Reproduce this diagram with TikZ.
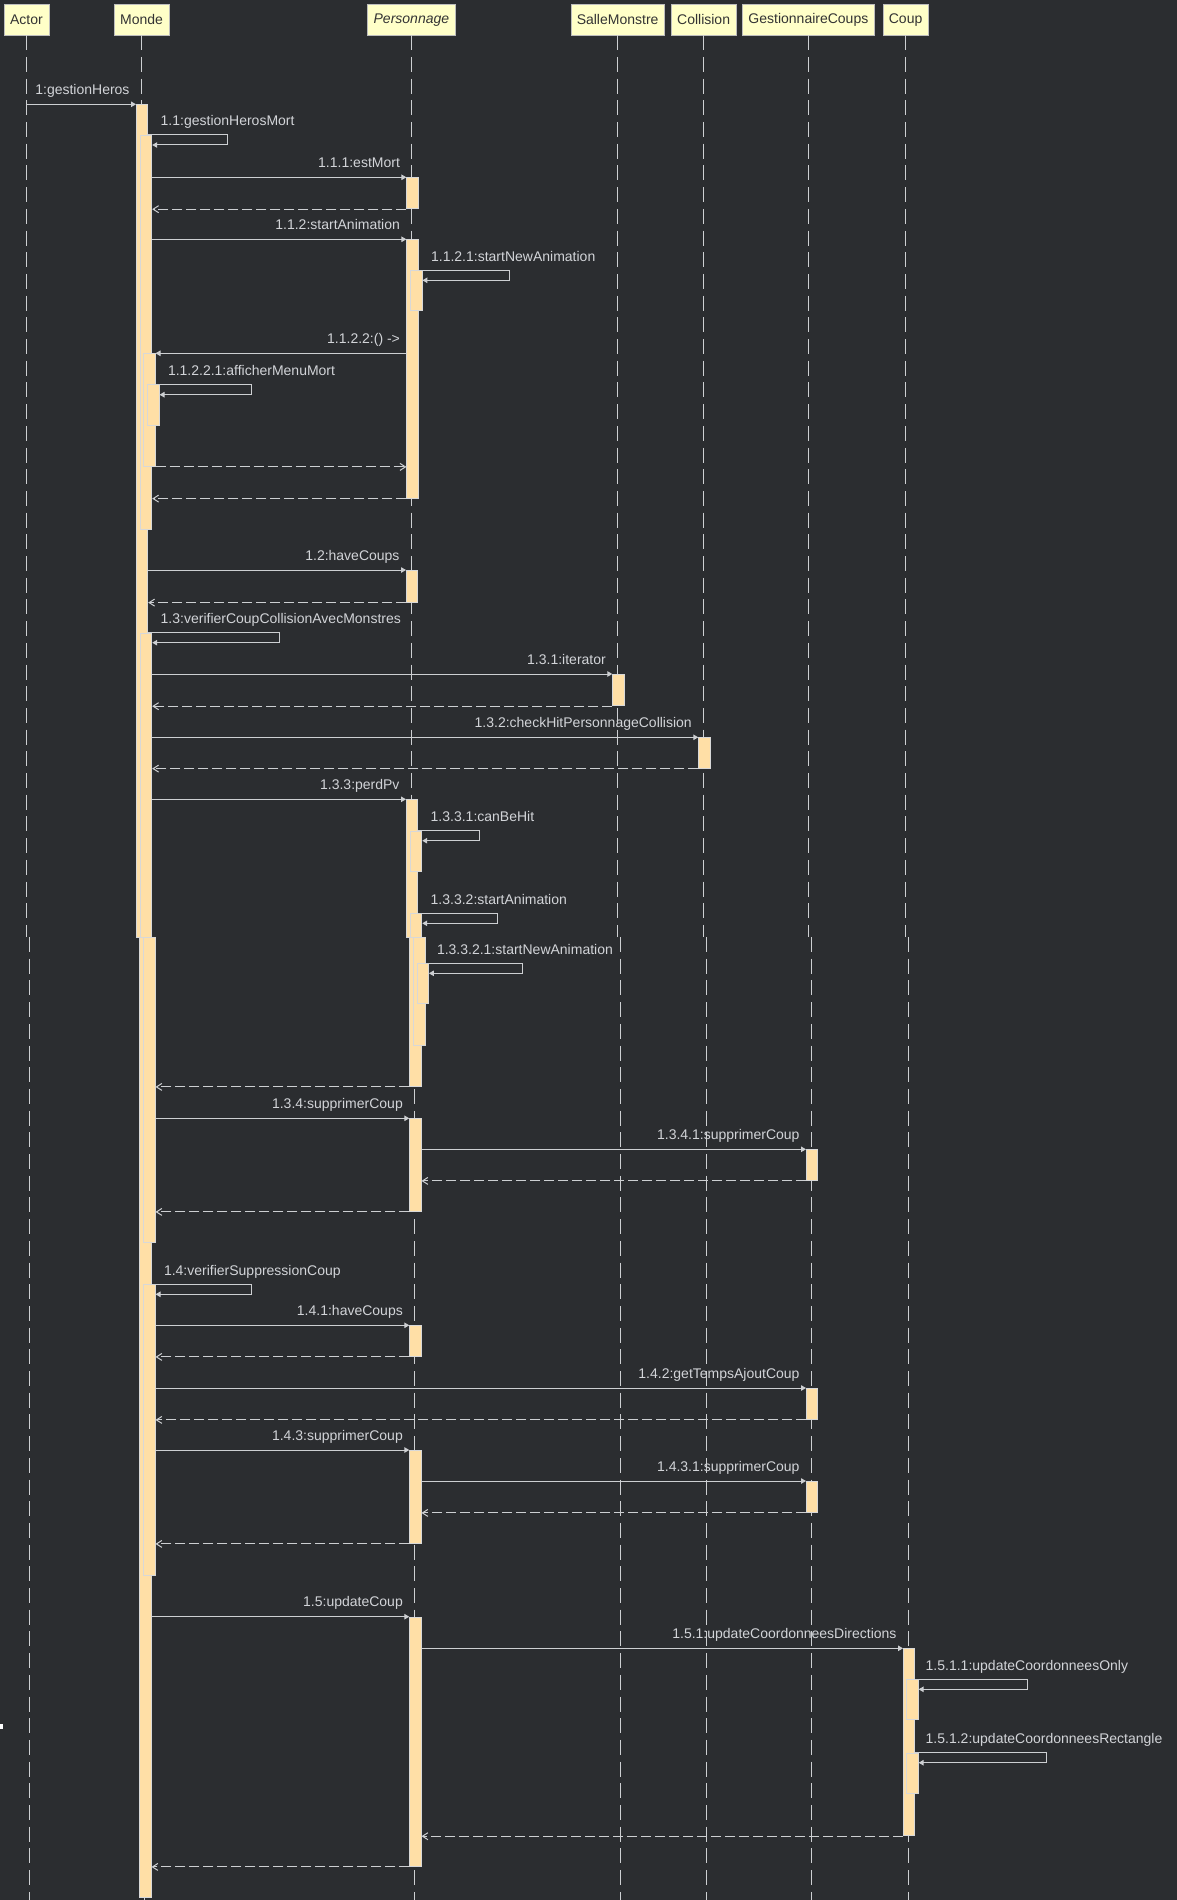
\documentclass[tikz,border=0pt]{standalone}
\usepackage{fontspec}
\setmainfont{Liberation Sans}
\usetikzlibrary{arrows.meta,calc}

\definecolor{bgcol}{HTML}{2B2D30}
\definecolor{linecol}{HTML}{CDCFD2}
\definecolor{txtcol}{HTML}{D2D4D8}
\definecolor{partfill}{HTML}{FFFFC8}
\definecolor{partline}{HTML}{BDBDBD}
\definecolor{actfill}{HTML}{FFDFA6}
\definecolor{actline}{HTML}{D8D8D8}

\begin{document}
\begin{tikzpicture}[x=1pt, y=-1pt,
    part/.style={draw=partline, fill=partfill, text=black!80, minimum height=30.5pt, inner xsep=6pt, inner ysep=0pt, font=\fontsize{14}{16}\selectfont},
    life/.style={linecol, line width=1.2pt, dash pattern=on 15pt off 6.7pt},
    act/.style={draw=actline, fill=actfill, line width=0.9pt, minimum width=11.3pt, inner sep=0pt, anchor=north west},
    call/.style={linecol, line width=1pt, -{Triangle[length=5pt,width=5.5pt]}},
    ret/.style={linecol, line width=1pt, dash pattern=on 10pt off 4pt, -{Straight Barb[length=5.5pt,width=7pt]}},
    lbl/.style={text=txtcol, font=\fontsize{14}{16}\selectfont, inner sep=0pt, anchor=base east, xshift=-6pt, yshift=10pt},
    slbl/.style={text=txtcol, font=\fontsize{14}{16}\selectfont, inner sep=0pt, anchor=base west, xshift=12pt, yshift=9pt}]

        % Background
        \fill[bgcol] (0,0) rectangle (1177,1900);
        \useasboundingbox (0,0) rectangle (1177,1900);
        \fill[white] (0,1724.3) rectangle (2.7,1729);

        % Participants
        \node[part] (actor) at (26.4,19.75) {Actor};
        \node[part] (monde) at (141.6,19.75) {Monde};
        \node[part, font=\fontsize{14}{16}\selectfont\itshape] (perso) at (411.4,19.75) {Personnage};
        \node[part] (salle) at (617.6,19.75) {SalleMonstre};
        \node[part] (coll) at (703.6,19.75) {Collision};
        \node[part] (gest) at (808.4,19.75) {GestionnaireCoups};
        \node[part] (coup) at (905.6,19.75) {Coup};

        \coordinate (cut) at (0,937);
        \coordinate (bot) at (0,1900);

        % Lifelines
        \foreach \p in {actor,monde,perso,salle,coll,gest,coup} {
            \draw[life] (\p.south) -- (\p.south |- cut);
            \draw[life] ($(\p.south |- cut)+(3,0)$) -- ($(\p.south |- bot)+(3,0)$);
        }

        % Activations Monde
        \node[act, minimum height=832.7pt] (m1a) at (136,104.3) {};
        \node[act, minimum height=959.7pt] (m1b) at (139.3,937) {};
        \node[act, minimum height=393.7pt] (m11) at (140,135) {};
        \node[act, minimum height=112.7pt] (m1122) at (143.3,353.3) {};
        \node[act, minimum height=41pt] (m11221) at (147.3,384.3) {};
        \node[act, minimum height=304.3pt] (m13a) at (140,632.7) {};
        \node[act, minimum height=305.3pt] (m13b) at (143.3,937) {};
        \node[act, minimum height=290.7pt] (m14) at (143.3,1284.3) {};

        % Activations Personnage
        \node[act, minimum height=31pt] (p111) at (406.4,177.3) {};
        \node[act, minimum height=258.4pt] (p112) at (406.4,239.3) {};
        \node[act, minimum height=40pt] (p1121) at (410.2,270.3) {};
        \node[act, minimum height=31.7pt] (p12) at (406,570) {};
        \node[act, minimum height=137.7pt] (p133a) at (406,799.3) {};
        \node[act, minimum height=149pt] (p133b) at (409.3,937) {};
        \node[act, minimum height=40pt] (p1331) at (410,830.7) {};
        \node[act, minimum height=23.7pt] (p1332a) at (410,913.3) {};
        \node[act, minimum height=108pt] (p1332b) at (413.3,937) {};
        \node[act, minimum height=40pt] (p13321) at (416.7,963.3) {};
        \node[act, minimum height=92.7pt] (p134) at (409.3,1118.3) {};
        \node[act, minimum height=30.7pt] (p141) at (409.3,1325.3) {};
        \node[act, minimum height=93pt] (p143) at (409.3,1450) {};
        \node[act, minimum height=249.3pt] (p15) at (409.3,1616.7) {};

        % Activations others
        \node[act, minimum height=31.3pt] (s131) at (612.3,674) {};
        \node[act, minimum height=30.4pt] (c132) at (698.3,737.3) {};
        \node[act, minimum height=30.7pt] (g1341) at (806,1149.3) {};
        \node[act, minimum height=31pt] (g142) at (806,1388) {};
        \node[act, minimum height=31pt] (g1431) at (806,1481) {};
        \node[act, minimum height=187pt] (k151) at (903,1648.3) {};
        \node[act, minimum height=40pt] (k1511) at (906.4,1679.3) {};
        \node[act, minimum height=40pt] (k1512) at (906.4,1752.7) {};

        % Messages 1.1
        \draw[call] (m1a.north west -| actor.south) -- (m1a.north west) node[lbl] {1:gestionHeros};
        \draw[call] (m11.north west -| m1a.east) node[slbl] {1.1:gestionHerosMort} -- ++(79,0) -- ++(0,10) -- ($(m11.north east)+(0,10)$);
        \draw[call] (p111.north west -| m11.east) -- (p111.north west) node[lbl] {1.1.1:estMort};
        \draw[ret] (p111.south west) -- (p111.south west -| m11.east);
        \draw[call] (p112.north west -| m11.east) -- (p112.north west) node[lbl] {1.1.2:startAnimation};
        \draw[call] (p1121.north west -| p112.east) node[slbl] {1.1.2.1:startNewAnimation} -- ++(91.3,0) -- ++(0,10) -- ($(p1121.north east)+(0,10)$);
        \draw[call] (m1122.north east -| p112.west) node[lbl] {1.1.2.2:() ->} -- (m1122.north east);
        \draw[call] (m11221.north west -| m1122.east) node[slbl] {1.1.2.2.1:afficherMenuMort} -- ++(96,0) -- ++(0,10.4) -- ($(m11221.north east)+(0,10.4)$);
        \draw[ret] (m1122.south east) -- (m1122.south east -| p112.west);
        \draw[ret] (p112.south west) -- (p112.south west -| m11.east);

        % Messages 1.2 - 1.3
        \draw[call] (p12.north west -| m1a.east) -- (p12.north west) node[lbl] {1.2:haveCoups};
        \draw[ret] (p12.south west) -- (p12.south west -| m1a.east);
        \draw[call] (m13a.north west -| m1a.east) node[slbl] {1.3:verifierCoupCollisionAvecMonstres} -- ++(131.4,0) -- ++(0,10) -- ($(m13a.north east)+(0,10)$);
        \draw[call] (s131.north west -| m13a.east) -- (s131.north west) node[lbl] {1.3.1:iterator};
        \draw[ret] (s131.south west) -- (s131.south west -| m13a.east);
        \draw[call] (c132.north west -| m13a.east) -- (c132.north west) node[lbl] {1.3.2:checkHitPersonnageCollision};
        \draw[ret] (c132.south west) -- (c132.south west -| m13a.east);
        \draw[call] (p133a.north west -| m13a.east) -- (p133a.north west) node[lbl] {1.3.3:perdPv};
        \draw[call] (p1331.north west -| p133a.east) node[slbl] {1.3.3.1:canBeHit} -- ++(61.4,0) -- ++(0,10) -- ($(p1331.north east)+(0,10)$);
        \draw[call] (p1332a.north west -| p133a.east) node[slbl] {1.3.3.2:startAnimation} -- ++(79.4,0) -- ++(0,10) -- ($(p1332a.north east)+(0,10)$);
        \draw[call] (p13321.north west -| p1332b.east) node[slbl, xshift=-1pt] {1.3.3.2.1:startNewAnimation} -- ++(97.1,0) -- ++(0,10) -- ($(p13321.north east)+(0,10)$);
        \draw[ret] (p133b.south west) -- (p133b.south west -| m13b.east);
        \draw[call] (p134.north west -| m13b.east) -- (p134.north west) node[lbl] {1.3.4:supprimerCoup};
        \draw[call] (g1341.north west -| p134.east) -- (g1341.north west) node[lbl] {1.3.4.1:supprimerCoup};
        \draw[ret] (g1341.south west) -- (g1341.south west -| p134.east);
        \draw[ret] (p134.south west) -- (p134.south west -| m13b.east);

        % Messages 1.4
        \draw[call] (m14.north west -| m1b.east) node[slbl] {1.4:verifierSuppressionCoup} -- ++(100,0) -- ++(0,10) -- ($(m14.north east)+(0,10)$);
        \draw[call] (p141.north west -| m14.east) -- (p141.north west) node[lbl] {1.4.1:haveCoups};
        \draw[ret] (p141.south west) -- (p141.south west -| m14.east);
        \draw[call] (g142.north west -| m14.east) -- (g142.north west) node[lbl] {1.4.2:getTempsAjoutCoup};
        \draw[ret] (g142.south west) -- (g142.south west -| m14.east);
        \draw[call] (p143.north west -| m14.east) -- (p143.north west) node[lbl] {1.4.3:supprimerCoup};
        \draw[call] (g1431.north west -| p143.east) -- (g1431.north west) node[lbl] {1.4.3.1:supprimerCoup};
        \draw[ret] (g1431.south west) -- (g1431.south west -| p143.east);
        \draw[ret] (p143.south west) -- (p143.south west -| m14.east);

        % Messages 1.5
        \draw[call] (p15.north west -| m1b.east) -- (p15.north west) node[lbl] {1.5:updateCoup};
        \draw[call] (k151.north west -| p15.east) -- (k151.north west) node[lbl] {1.5.1:updateCoordonneesDirections};
        \draw[call] (k1511.north west -| k151.east) node[slbl, xshift=-2pt] {1.5.1.1:updateCoordonneesOnly} -- ++(112.5,0) -- ++(0,10) -- ($(k1511.north east)+(0,10)$);
        \draw[call] (k1512.north west -| k151.east) node[slbl, xshift=-2pt] {1.5.1.2:updateCoordonneesRectangle} -- ++(131,0) -- ++(0,10) -- ($(k1512.north east)+(0,10)$);
        \draw[ret] (k151.south west) -- (k151.south west -| p15.east);
        \draw[ret] (p15.south west) -- (p15.south west -| m1b.east);
    \end{tikzpicture}
\end{document}
